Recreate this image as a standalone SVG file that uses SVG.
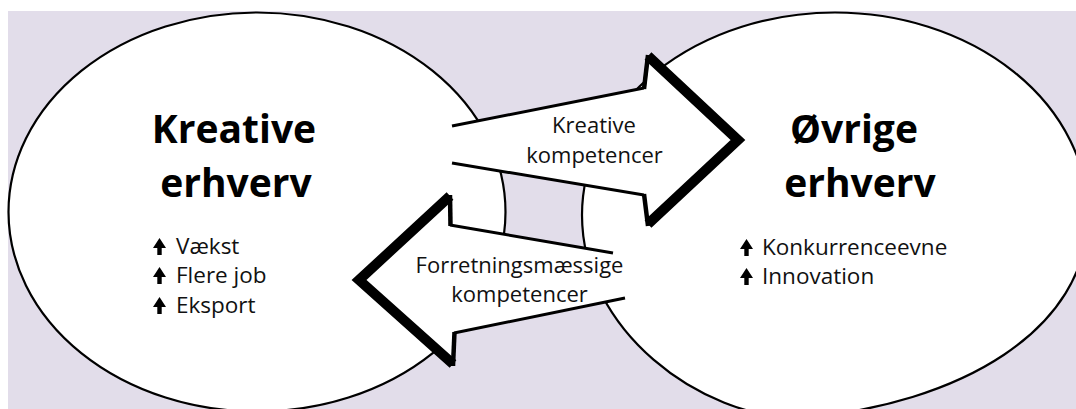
<svg xmlns="http://www.w3.org/2000/svg" width="1076" height="409" viewBox="0 0 1076 409">
<defs>
<style>
.bg{fill:#E2DDEA}
.ell{fill:#FFFFFF;stroke:#000;stroke-width:2.2}
.afill{fill:#FFFFFF;stroke:none}
.thin{fill:none;stroke:#000;stroke-width:3}
.notch{fill:none;stroke:#000;stroke-width:4.5}
.head{fill:none;stroke:#000;stroke-width:10;stroke-linejoin:miter;stroke-miterlimit:10}
.title{font-family:"Open Sans","Noto Sans",sans-serif;font-weight:bold;font-size:39px;fill:#000;text-anchor:middle}
.lbl{font-family:"Open Sans","Noto Sans",sans-serif;font-size:22px;fill:#111;text-anchor:middle}
.item{font-family:"Open Sans","Noto Sans",sans-serif;font-size:22.5px;fill:#111}
.bul{fill:#000}
</style>
<path id="upArrow" d="M0,0 L6.5,10 L2.2,10 L2.2,17 L-2.2,17 L-2.2,10 L-6.5,10 Z"/>
</defs>
<rect x="0" y="0" width="1076" height="409" fill="#FFFFFF"/>
<rect class="bg" x="8" y="11" width="1068" height="398"/>

<g id="kreative-erhverv">
<ellipse class="ell" cx="257" cy="212" rx="248.5" ry="199.5"/>
<text class="title" x="234" y="143">Kreative</text>
<text class="title" x="236" y="197">erhverv</text>
<use href="#upArrow" class="bul" x="159.5" y="238"/>
<use href="#upArrow" class="bul" x="159.5" y="267"/>
<use href="#upArrow" class="bul" x="159.5" y="297"/>
<text class="item" x="176" y="254">Vækst</text>
<text class="item" x="176" y="283">Flere job</text>
<text class="item" x="176" y="313">Eksport</text>
</g>

<g id="ovrige-erhverv">
<path class="ell" d="M582,215 A253,202.5 0 0 1 1088,215 C1088,330 960,405 800,418 C700,418 582,330 582,215 Z"/>
<text class="title" x="854" y="143">Øvrige</text>
<text class="title" x="860" y="197">erhverv</text>
<use href="#upArrow" class="bul" x="746.5" y="239"/>
<use href="#upArrow" class="bul" x="746.5" y="268"/>
<text class="item" x="762" y="255">Konkurrenceevne</text>
<text class="item" x="762" y="284">Innovation</text>
</g>

<g id="connectors">
<g id="arrow-kreative-kompetencer">
<polygon class="afill" points="452,126 643,88 647,55 740,140 648,225 643,195 452,163"/>
<line class="thin" x1="452" y1="126" x2="644" y2="88"/>
<line class="thin" x1="452" y1="163" x2="644" y2="195"/>
<line class="notch" x1="644" y1="89" x2="648" y2="55"/>
<line class="notch" x1="644" y1="194" x2="648" y2="226"/>
<polyline class="head" points="648,56 738,140 648,224"/>
<text class="lbl" x="594" y="133">Kreative</text>
<text class="lbl" x="594.5" y="163">kompetencer</text>
</g>
<g id="arrow-forretningsmaessige-kompetencer">
<polygon class="afill" points="613,253 451,225 450,195 357,280 453,365 455,333 625,298"/>
<line class="thin" x1="450" y1="225" x2="613" y2="253"/>
<line class="thin" x1="454" y1="333" x2="625" y2="298"/>
<line class="notch" x1="450.5" y1="226" x2="450" y2="195"/>
<line class="notch" x1="454.5" y1="332" x2="453" y2="366"/>
<polyline class="head" points="450,196 359,280 453,364"/>
<text class="lbl" x="519.5" y="273">Forretningsmæssige</text>
<text class="lbl" x="519.5" y="302">kompetencer</text>
</g>
</g>
</svg>
